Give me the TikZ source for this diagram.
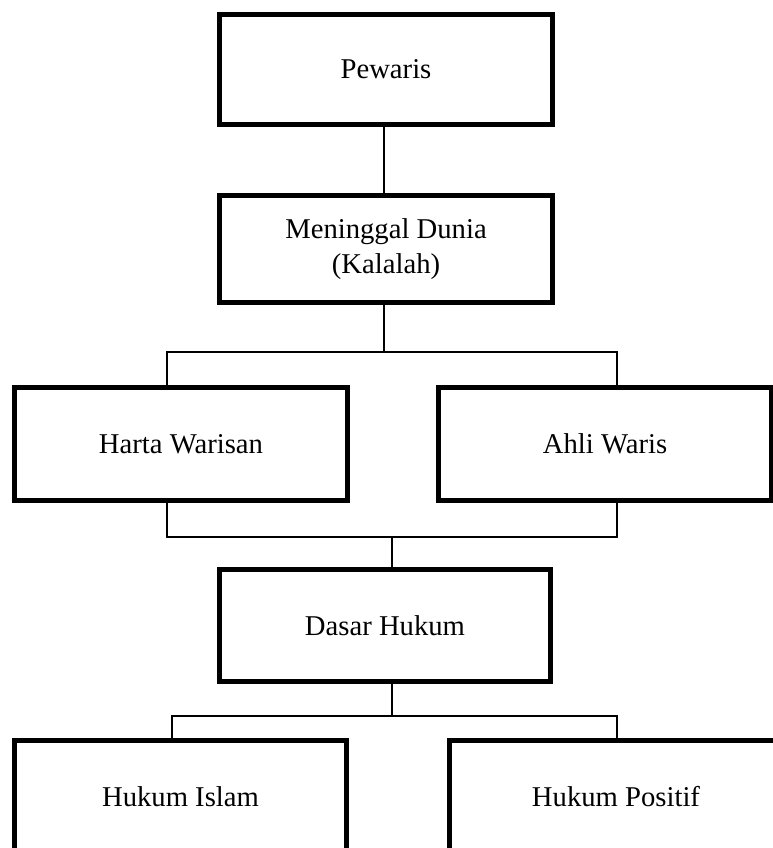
\documentclass[tikz,border=0pt]{standalone}
\usepackage{fontspec}
\setmainfont{Liberation Serif}
\begin{document}
\begin{tikzpicture}[x=0.75pt,y=-0.75pt,
  box/.style={draw=black, line width=3.75pt, fill=white, inner sep=0pt,
    align=center, font=\fontsize{21.5pt}{26.5pt}\selectfont},
  link/.style={draw=black, line width=1.4pt}]
\useasboundingbox (0,0) rectangle (773,848);
\clip (0,0) rectangle (773,848);
\node[box, minimum width=333*0.75pt, minimum height=110*0.75pt] (b1) at (386,69.5) {Pewaris};
\node[box, minimum width=333*0.75pt, minimum height=107*0.75pt] (b2) at (386,249) {Meninggal Dunia\\(Kalalah)};
\node[box, minimum width=333*0.75pt, minimum height=113*0.75pt] (b3) at (181,444) {Harta Warisan};
\node[box, minimum width=333*0.75pt, minimum height=113*0.75pt] (b4) at (605,444) {Ahli Waris};
\node[box, minimum width=331*0.75pt, minimum height=112*0.75pt] (b5) at (385,625.5) {Dasar Hukum};
\node[box, minimum width=332*0.75pt, minimum height=113*0.75pt] (b6) at (180.5,797) {Hukum Islam};
\node[box, minimum width=333*0.75pt, minimum height=113*0.75pt] (b7) at (616,797) {Hukum Positif};
% junction points
\coordinate (t1) at (384,352);
\coordinate (t1l) at (167,352);
\coordinate (t1r) at (617,352);
\coordinate (t2) at (392,537);
\coordinate (t2l) at (167,537);
\coordinate (t2r) at (617,537);
\coordinate (t3) at (392,716);
\coordinate (t3l) at (172,716);
\coordinate (t3r) at (617,716);
\begin{scope}[on background layer/.style={}]
\end{scope}
\draw[link] (b1.south -| t1) -- (b2.north -| t1);
\draw[link] (b2.south -| t1) -- (t1);
\draw[link] (t1l |- b3.north) -- (t1l) -- (t1r) -- (t1r |- b4.north);
\draw[link] (t2l |- b3.south) -- (t2l) -- (t2r) -- (t2r |- b4.south);
\draw[link] (t2) -- (t2 |- b5.north);
\draw[link] (b5.south -| t3) -- (t3);
\draw[link] (t3l |- b6.north) -- (t3l) -- (t3r) -- (t3r |- b7.north);
\end{tikzpicture}
\end{document}
